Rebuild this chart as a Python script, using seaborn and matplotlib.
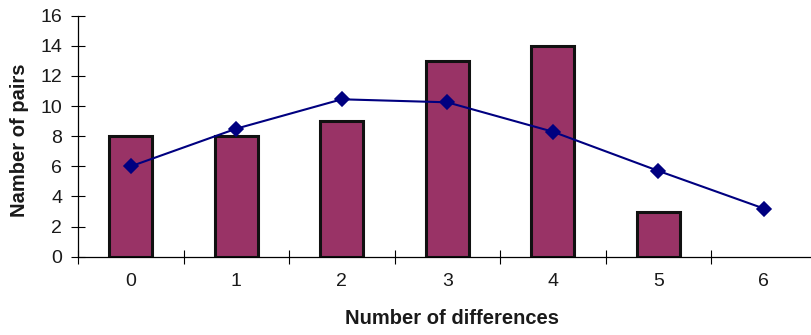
import matplotlib
matplotlib.use("Agg")
import matplotlib.pyplot as plt
import seaborn as sns
import pandas as pd
from matplotlib.ticker import FixedLocator, NullFormatter, FixedFormatter

# Observed counts of pairs by number of differences
categories = ["0", "1", "2", "3", "4", "5", "6"]
bar_categories = ["0", "1", "2", "3", "4", "5"]
observed_pairs = [8, 8, 9, 13, 14, 3]
# Expected counts (fitted curve)
expected_pairs = [6.0, 8.5, 10.45, 10.25, 8.3, 5.7, 3.2]
y_ticks = [0, 2, 4, 6, 8, 10, 12, 14, 16]

sns.set_theme(style="white")
plt.rcParams["font.family"] = ["Liberation Sans", "DejaVu Sans"]

bars = pd.DataFrame({"diff": bar_categories, "pairs": observed_pairs})
curve = pd.DataFrame({"diff": categories, "pairs": expected_pairs})

dpi = 100
fig = plt.figure(figsize=(811 / dpi, 335 / dpi), dpi=dpi)
fig.patch.set_facecolor("white")
ax = fig.add_axes([78 / 811, 78.3 / 335, 738.5 / 811, 241 / 335])

sns.barplot(data=bars, x="diff", y="pairs", order=categories, ax=ax,
            color="#993366", saturation=1, width=0.41,
            edgecolor="#111111", linewidth=2.2)
sns.pointplot(data=curve, x="diff", y="pairs", order=categories, ax=ax,
              color="#000080", markers="D", linestyles="-",
              markersize=7.5, linewidth=1.5, errorbar=None)

ax.set_xlim(-0.5, 6.5)
ax.set_ylim(0, 16)

# Tick marks sit between categories, labels at category centres
ax.xaxis.set_major_locator(FixedLocator([i - 0.5 for i in range(8)]))
ax.xaxis.set_major_formatter(NullFormatter())
ax.xaxis.set_minor_locator(FixedLocator(list(range(len(categories)))))
ax.xaxis.set_minor_formatter(FixedFormatter(categories))
ax.tick_params(axis="x", which="major", direction="inout", length=10,
               width=0.8, color="black", bottom=True)
ax.tick_params(axis="x", which="minor", length=0, pad=11.5,
               labelsize=14, labelcolor="#1a1a1a", bottom=True)

ax.set_yticks(y_ticks)
ax.tick_params(axis="y", direction="inout", length=10, width=0.8,
               color="black", left=True, pad=6.5, labelsize=14,
               labelcolor="#1a1a1a")

for side in ("top", "right"):
    ax.spines[side].set_visible(False)
for side in ("left", "bottom"):
    ax.spines[side].set_color("black")
    ax.spines[side].set_linewidth(0.9)

ax.set_xlabel("Number of differences", fontsize=14.5, fontweight="bold",
              color="#1a1a1a")
ax.set_ylabel("Namber of pairs", fontsize=14.5, fontweight="bold",
              color="#1a1a1a")
ax.xaxis.label.set_va("center")
ax.yaxis.label.set_va("center")
ax.xaxis.set_label_coords((452 - 78) / 738.5, -(319 - 256.7) / 241)
ax.yaxis.set_label_coords((20 - 78) / 738.5, (256.7 - 140.5) / 241)

fig.savefig("out.png", dpi=dpi, facecolor="white")
